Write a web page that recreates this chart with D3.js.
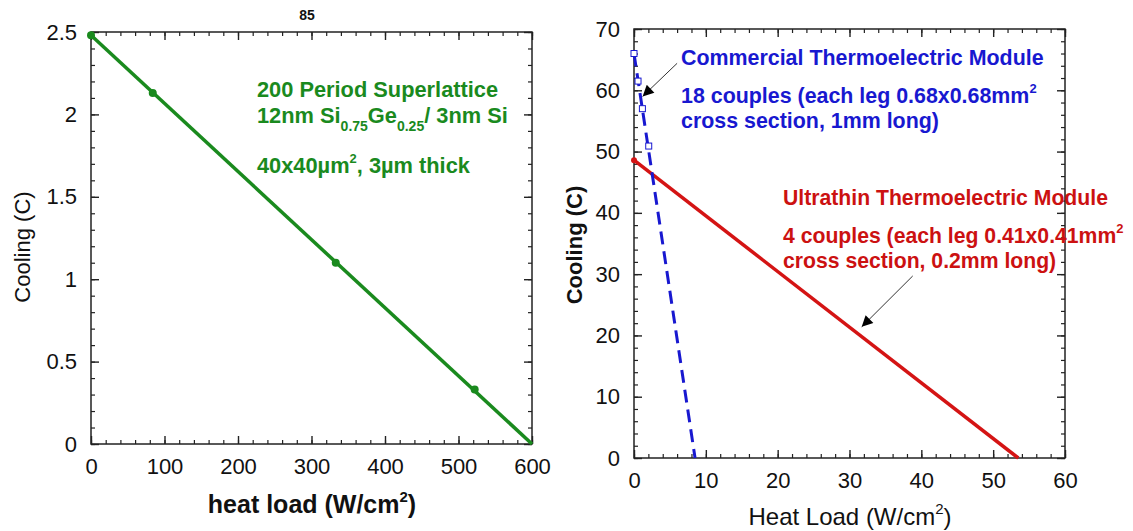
<!DOCTYPE html>
<html><head><meta charset="utf-8">
<script src="https://cdn.jsdelivr.net/npm/d3@7"></script>
<style>body{margin:0;background:#fff}svg{display:block}text{font-family:"Liberation Sans",Arial,sans-serif}</style>
</head><body>
<svg id="c" width="1133" height="531"></svg>
<script>
// ---- Left chart data (Superlattice) ----
const slHeat = [0, 84, 333, 522];
const slCool = [2.48, 2.13, 1.10, 0.33];
const slLineHeat = [0, 600];
const slLineCool = [2.48, 0];
const leftXTicks = [0, 100, 200, 300, 400, 500, 600];
const leftYTicks = [0, 0.5, 1, 1.5, 2, 2.5];

// ---- Right chart data ----
const comHeat = [0, 0.56, 1.17, 2.05];
const comCool = [66.0, 61.5, 57.0, 50.9];
const comLineHeat = [0, 8.5];
const comLineCool = [66.0, 0];
const ultLineHeat = [0, 53.5];
const ultLineCool = [48.6, 0];
const rightXTicks = [0, 10, 20, 30, 40, 50, 60];
const rightYTicks = [0, 10, 20, 30, 40, 50, 60, 70];

const svg = d3.select("#c");
const GREEN = "#1a8a1e", BLUE = "#1818d0", RED = "#d41414";

svg.append("defs").append("marker")
  .attr("id", "ah").attr("viewBox", "0 0 10 10").attr("refX", 10).attr("refY", 5)
  .attr("markerWidth", 16).attr("markerHeight", 11).attr("markerUnits", "userSpaceOnUse")
  .attr("orient", "auto")
  .append("path").attr("d", "M0,0L10,5L0,10z").attr("fill", "#000");

function frame(g, x, y, xMinor, yMinor, xTicks, yTicks, fmtX, fmtY) {
  const [x0, x1] = x.range(), [y1, y0] = y.range();
  const w = x1 - x0, h = y1 - y0;
  const axes = [
    [d3.axisBottom(x), `translate(0,${y1})`, xTicks, xMinor, fmtX, true],
    [d3.axisTop(x), `translate(0,${y0})`, xTicks, xMinor, null, false],
    [d3.axisLeft(y), `translate(${x0},0)`, yTicks, yMinor, fmtY, true],
    [d3.axisRight(y), `translate(${x1},0)`, yTicks, yMinor, null, false]
  ];
  axes.forEach(([ax, tr, maj, minr, fmt, lab]) => {
    const gm = g.append("g").attr("transform", tr)
      .call(ax.tickValues(minr).tickSize(-4).tickFormat(""));
    gm.select(".domain").remove();
    gm.selectAll("line").attr("stroke", "#222").attr("stroke-width", 1.2);
    const gM = g.append("g").attr("transform", tr)
      .call(ax.tickValues(maj).tickSize(-8).tickPadding(lab ? 14 : 0).tickFormat(lab ? fmt : ""));
    gM.select(".domain").remove();
    gM.selectAll("line").attr("stroke", "#222").attr("stroke-width", 1.4);
    gM.selectAll("text").attr("font-size", 22).attr("fill", "#111")
      .attr("font-family", "Liberation Sans, Arial, sans-serif");
  });
  g.append("rect").attr("x", x0).attr("y", y0).attr("width", w).attr("height", h)
    .attr("fill", "none").attr("stroke", "#222").attr("stroke-width", 1.5);
}

// ===== Left chart =====
const xL = d3.scaleLinear().domain([0, 600]).range([91, 532]);
const yL = d3.scaleLinear().domain([0, 2.5]).range([444, 32]);
const gL = svg.append("g");
frame(gL, xL, yL, d3.range(0, 601, 20), d3.range(0, 2.501, 0.1).map(v => +v.toFixed(2)),
  leftXTicks, leftYTicks, d3.format("d"), d => d3.format("")(d));

gL.append("path")
  .datum(slLineHeat.map((h, i) => [h, slLineCool[i]]))
  .attr("d", d3.line().x(d => xL(d[0])).y(d => yL(d[1])))
  .attr("stroke", GREEN).attr("stroke-width", 3.5).attr("fill", "none");
gL.selectAll("circle.sl").data(slHeat.map((h, i) => [h, slCool[i]])).enter()
  .append("circle").attr("class", "sl")
  .attr("cx", d => xL(d[0])).attr("cy", d => yL(d[1])).attr("r", 4).attr("fill", GREEN);

svg.append("text").attr("x", 307).attr("y", 20).attr("text-anchor", "middle")
  .attr("font-size", 14).attr("font-weight", "bold").attr("fill", "#111").text("85");

const gt = gL.append("g").attr("fill", GREEN).attr("font-weight", "bold").attr("font-size", 21.8);
gt.append("text").attr("x", 257).attr("y", 97).text("200 Period Superlattice");
const t2 = gt.append("text").attr("x", 257).attr("y", 123);
t2.append("tspan").text("12nm Si");
t2.append("tspan").attr("font-size", 14).attr("dy", 8).text("0.75");
t2.append("tspan").attr("dy", -8).text("Ge");
t2.append("tspan").attr("font-size", 14).attr("dy", 8).text("0.25");
t2.append("tspan").attr("dy", -8).text("/ 3nm Si");
const t3 = gt.append("text").attr("x", 257).attr("y", 173);
t3.append("tspan").text("40x40\u00b5m");
t3.append("tspan").attr("font-size", 13).attr("dy", -10).text("2");
t3.append("tspan").attr("dy", 10).text(", 3\u00b5m thick");

svg.append("text").attr("transform", "translate(30,247) rotate(-90)").attr("text-anchor", "middle")
  .attr("font-size", 22).attr("fill", "#111").text("Cooling (C)");
const xl = svg.append("text").attr("x", 312).attr("y", 513).attr("text-anchor", "middle")
  .attr("font-size", 25).attr("font-weight", "bold").attr("fill", "#111");
xl.append("tspan").text("heat load (W/cm");
xl.append("tspan").attr("font-size", 15).attr("dy", -11).text("2");
xl.append("tspan").attr("dy", 11).text(")");

// ===== Right chart =====
const xR = d3.scaleLinear().domain([0, 60]).range([634, 1065]);
const yR = d3.scaleLinear().domain([0, 70]).range([458, 29]);
const gR = svg.append("g");
frame(gR, xR, yR, d3.range(0, 61, 2), d3.range(0, 71, 2), rightXTicks, rightYTicks, d3.format("d"), d3.format("d"));

gR.append("path")
  .datum(ultLineHeat.map((h, i) => [h, ultLineCool[i]]))
  .attr("d", d3.line().x(d => xR(d[0])).y(d => yR(d[1])))
  .attr("stroke", RED).attr("stroke-width", 3.5).attr("fill", "none");
gR.append("circle").attr("cx", xR(ultLineHeat[0])).attr("cy", yR(ultLineCool[0])).attr("r", 3).attr("fill", RED);

gR.append("path")
  .datum(comLineHeat.map((h, i) => [h, comLineCool[i]]))
  .attr("d", d3.line().x(d => xR(d[0])).y(d => yR(d[1])))
  .attr("stroke", BLUE).attr("stroke-width", 3).attr("stroke-dasharray", "13,7").attr("fill", "none");
gR.selectAll("rect.cm").data(comHeat.map((h, i) => [h, comCool[i]])).enter()
  .append("rect").attr("class", "cm")
  .attr("x", d => xR(d[0]) - 3).attr("y", d => yR(d[1]) - 3).attr("width", 6).attr("height", 6)
  .attr("fill", "#fff").attr("stroke", BLUE).attr("stroke-width", 1);

// arrows (data coords)
gR.append("line").attr("x1", xR(6.0)).attr("y1", yR(64.4)).attr("x2", xR(1.2)).attr("y2", yR(59))
  .attr("stroke", "#333").attr("stroke-width", 1).attr("marker-end", "url(#ah)");
gR.append("line").attr("x1", xR(38.8)).attr("y1", yR(29.7)).attr("x2", xR(31.7)).attr("y2", yR(21.4))
  .attr("stroke", "#333").attr("stroke-width", 1).attr("marker-end", "url(#ah)");

const bt = svg.append("g").attr("fill", BLUE).attr("font-weight", "bold").attr("font-size", 21.4);
bt.append("text").attr("x", 681).attr("y", 65).text("Commercial Thermoelectric Module");
const b2 = bt.append("text").attr("x", 681).attr("y", 103);
b2.append("tspan").text("18 couples (each leg 0.68x0.68mm");
b2.append("tspan").attr("font-size", 13).attr("dy", -10).text("2");
bt.append("text").attr("x", 681).attr("y", 128).text("cross section, 1mm long)");

const rt = svg.append("g").attr("fill", "#cc1111").attr("font-weight", "bold").attr("font-size", 21.2);
rt.append("text").attr("x", 783).attr("y", 205).text("Ultrathin Thermoelectric Module");
const r2 = rt.append("text").attr("x", 783).attr("y", 243);
r2.append("tspan").text("4 couples (each leg 0.41x0.41mm");
r2.append("tspan").attr("font-size", 13).attr("dy", -10).text("2");
rt.append("text").attr("x", 783).attr("y", 268).text("cross section, 0.2mm long)");

svg.append("text").attr("transform", "translate(582,245) rotate(-90)").attr("text-anchor", "middle")
  .attr("font-size", 22).attr("font-weight", "bold").attr("fill", "#111").text("Cooling (C)");
const xr = svg.append("text").attr("x", 850).attr("y", 525).attr("text-anchor", "middle")
  .attr("font-size", 24).attr("fill", "#111");
xr.append("tspan").text("Heat Load (W/cm");
xr.append("tspan").attr("font-size", 15).attr("dy", -11).text("2");
xr.append("tspan").attr("dy", 11).text(")");
</script>
</body></html>
